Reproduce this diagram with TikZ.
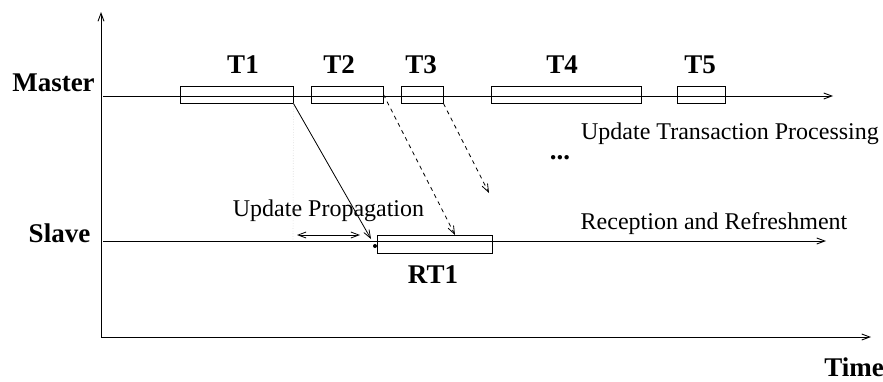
\documentclass[tikz,border=0pt]{standalone}
\usepackage{fontspec}
\setmainfont{Liberation Serif}
\usetikzlibrary{arrows.meta}

\tikzset{
  tbox/.style={draw, minimum height=17pt, inner sep=0pt},
  big/.style={font=\fontsize{27}{30}\selectfont\bfseries},
  txt/.style={font=\fontsize{24}{28}\selectfont},
}

\begin{document}
\begin{tikzpicture}[x=1pt, y=-1pt, line width=0.9pt,
    >={Straight Barb[length=8pt,width=6pt]}]
    \useasboundingbox (0,0) rectangle (883,381);

    \coordinate (o)    at (101,337);
    \coordinate (ytop) at (101,12);
    \coordinate (xend) at (871,337);
    \coordinate (m0)   at (103,96);
    \coordinate (m1)   at (833,96);
    \coordinate (s0)   at (103,241);
    \coordinate (s1)   at (826,241);

    \node[tbox, minimum width=113pt] (t1) at (236.5,94.5) {};
    \node[tbox, minimum width=72pt]  (t2) at (347,94.5) {};
    \node[tbox, minimum width=42pt]  (t3) at (422,94.5) {};
    \node[tbox, minimum width=150pt] (t4) at (566,94.5) {};
    \node[tbox, minimum width=48pt]  (t5) at (701,94.5) {};
    \node[tbox, minimum width=115pt, minimum height=18pt] (rt1) at (434.5,244) {};

    \node[big] (lt1) at (243,65) {T1};
    \node[big] (lt2) at (339,65) {T2};
    \node[big] (lt3) at (421,65) {T3};
    \node[big] (lt4) at (562,65) {T4};
    \node[big] (lt5) at (700,65) {T5};
    \node[big] (lrt1) at (433,275) {RT1};

    \node[big] (master) at (53.5,83) {Master};
    \node[big] (slave)  at (59.5,233) {Slave};
    \node[big] (time)   at (854,367) {Time};
    \node[big] (dots)   at (560,158) {...};

    \node[txt] (utp) at (730,134) {Update Transaction Processing};
    \node[txt] (rr)  at (714,224) {Reception and Refreshment};
    \node[txt] (up)  at (328.5,211) {Update Propagation};

    % axes
    \draw[->] (o) -- (ytop);
    \draw[->] (o) -- (xend);
    \draw[->] (m0) -- (m1);
    \draw[->] (s0) -- (s1);

    % propagation
    \coordinate (p1) at (371,239);
    \coordinate (p2) at (455,235);
    \coordinate (p3) at (489,193);
    \coordinate (d0) at (293,241);
    \coordinate (a0) at (297,235);
    \coordinate (a1) at (360,235);
    \draw[gray!40, line width=0.6pt, dotted] (t1.south east) -- (d0);
    \draw[->, line width=0.8pt] (t1.south east) -- (p1);
    \draw[->, line width=0.8pt, dash pattern=on 4pt off 4pt] (t2.east) -- (p2);
    \draw[->, line width=0.8pt, dash pattern=on 4pt off 4pt] (t3.south east) -- (p3);
    \draw[<->, line width=0.8pt] (a0) -- (a1);
    \fill (375,246) circle (2pt);
\end{tikzpicture}
\end{document}
